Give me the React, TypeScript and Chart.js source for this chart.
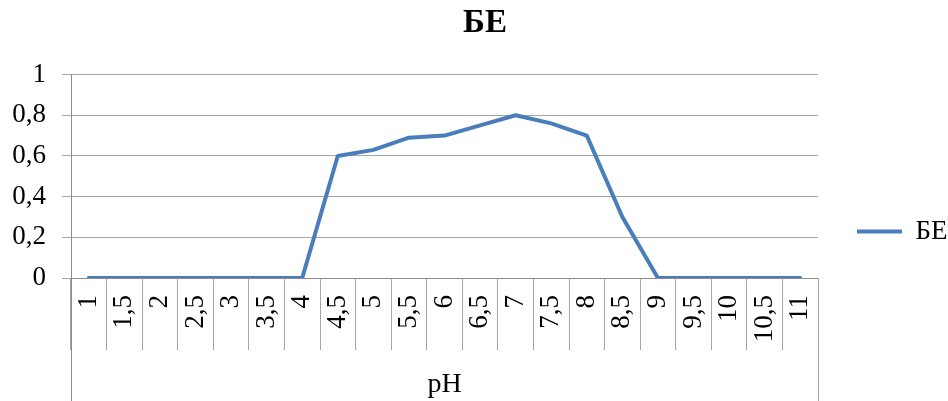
import React, { useEffect, useRef } from "react";
import { Chart, registerables } from "chart.js";

Chart.register(...registerables);

const categories = ["1", "1,5", "2", "2,5", "3", "3,5", "4", "4,5", "5", "5,5", "6", "6,5", "7", "7,5", "8", "8,5", "9", "9,5", "10", "10,5", "11"];
const beValues = [0, 0, 0, 0, 0, 0, 0, 0.6, 0.63, 0.69, 0.7, 0.75, 0.8, 0.76, 0.7, 0.3, 0, 0, 0, 0, 0];
const yTickLabels = ["0", "0,2", "0,4", "0,6", "0,8", "1"];
const seriesName = "БЕ";
const chartTitle = "БЕ";
const xTitle = "pH";

const FONT = "'Liberation Serif', 'Times New Roman', serif";
const GRID = "#a6a6a6";
const AXIS = "#8c8c8c";
const BLUE = "#4a7ebb";

const boxPlugin = {
  id: "xbox",
  afterLayout(chart: any) {
    const t = chart.titleBlock;
    if (t) {
      t.left = t.left + 22;
    }
  },
  afterDraw(chart: any) {
    const x = chart.scales.x;
    const ctx = chart.ctx;
    ctx.save();
    ctx.lineWidth = 1;
    ctx.strokeStyle = AXIS;
    ctx.beginPath();
    ctx.moveTo(Math.round(x.left) + 0.5, x.top);
    ctx.lineTo(Math.round(x.left) + 0.5, x.bottom);
    ctx.stroke();
    ctx.strokeStyle = GRID;
    ctx.beginPath();
    ctx.moveTo(Math.round(x.right) + 0.5, x.top);
    ctx.lineTo(Math.round(x.right) + 0.5, x.bottom);
    ctx.stroke();
    ctx.restore();
  },
};

export default function App() {
  const ref = useRef<HTMLCanvasElement>(null);
  useEffect(() => {
    document.body.style.margin = "0";
    const chart = new Chart(ref.current as HTMLCanvasElement, {
      type: "line",
      data: {
        labels: categories,
        datasets: [
          {
            label: seriesName,
            data: beValues,
            borderColor: BLUE,
            backgroundColor: BLUE,
            borderWidth: 4,
            pointRadius: 0,
            tension: 0,
            borderCapStyle: "round",
            borderJoinStyle: "round",
          },
        ],
      },
      plugins: [boxPlugin],
      options: {
        responsive: false,
        animation: false,
        layout: { padding: { left: 0, right: 0, top: 0, bottom: 0 } },
        plugins: {
          title: {
            display: true,
            text: chartTitle,
            color: "#000",
            font: { family: FONT, size: 33, weight: "bold" },
            padding: { top: 4, bottom: 31 },
          },
          legend: {
            position: "right",
            maxWidth: 130,
            title: {
              display: true,
              text: " ",
              font: { size: 1 },
              padding: { top: 61, bottom: 0 },
            },
            labels: {
              usePointStyle: true,
              pointStyle: "line",
              pointStyleWidth: 45,
              color: "#000",
              font: { family: FONT, size: 27 },
              padding: 39,
            },
          },
          tooltip: { enabled: false },
        },
        scales: {
          x: {
            offset: true,
            grid: {
              offset: true,
              drawOnChartArea: false,
              drawTicks: true,
              tickLength: 72,
              color: GRID,
            },
            border: { color: AXIS },
            ticks: {
              autoSkip: false,
              minRotation: 90,
              maxRotation: 90,
              padding: -55,
              color: "#000",
              font: { family: FONT, size: 27 },
            },
            title: {
              display: true,
              text: xTitle,
              color: "#000",
              font: { family: FONT, size: 28 },
              padding: { top: 0, bottom: 0 },
            },
            afterFit(scale: any) {
              scale.height = 123;
            },
          },
          y: {
            min: 0,
            max: 1,
            grid: { color: GRID, tickLength: 9 },
            border: { color: AXIS },
            ticks: {
              stepSize: 0.2,
              padding: 16,
              color: "#000",
              font: { family: FONT, size: 27 },
              callback: (_v: any, i: number) => yTickLabels[i],
            },
            afterFit(scale: any) {
              scale.width = 71;
            },
          },
        },
      },
    } as any);
    return () => chart.destroy();
  }, []);
  return (
    <div style={{ position: "absolute", left: 0, top: 0, width: 948, height: 401 }}>
      <canvas ref={ref} width={948} height={401} />
    </div>
  );
}
